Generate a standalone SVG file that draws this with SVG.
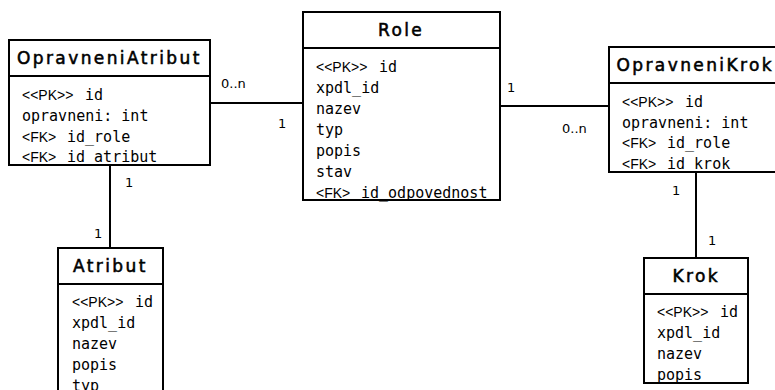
<svg xmlns="http://www.w3.org/2000/svg" width="775" height="390" viewBox="0 0 775 390">
  <style>
    .box { fill: #fff; stroke: #000; stroke-width: 2; }
    .sep { stroke: #000; stroke-width: 2; }
    .title { font-family: "DejaVu Sans", sans-serif; font-size: 17px; letter-spacing: 2.4px; fill: #000; stroke: #000; stroke-width: 0.55px; }
    .m { font-family: "DejaVu Sans Mono", monospace; font-size: 15px; fill: #000; }
    .k { font-family: "Liberation Sans", sans-serif; font-size: 14px; fill: #000; }
    .conn line { stroke: #000; stroke-width: 2; }
    .lbl { font-family: "DejaVu Sans", sans-serif; font-size: 13px; fill: #000; }
  </style>

  <!-- connectors -->
  <g id="connectors" class="conn">
    <line x1="210" y1="103" x2="303" y2="103"/>
    <line x1="500" y1="106" x2="609" y2="106"/>
    <line x1="110" y1="165" x2="110" y2="248"/>
    <line x1="696" y1="172" x2="696" y2="258"/>
    <text class="lbl" x="221" y="88">0..n</text>
    <text class="lbl" x="278" y="128">1</text>
    <text class="lbl" x="507" y="92">1</text>
    <text class="lbl" x="562" y="133">0..n</text>
    <text class="lbl" x="125" y="187">1</text>
    <text class="lbl" x="94" y="238">1</text>
    <text class="lbl" x="672" y="195">1</text>
    <text class="lbl" x="708" y="245">1</text>
  </g>

  <!-- OpravneniAtribut -->
  <g id="OpravneniAtribut">
    <rect class="box" x="9" y="40" width="201" height="125"/>
    <line class="sep" x1="9" y1="76" x2="210" y2="76"/>
    <text class="title" x="17" y="64">OpravneniAtribut</text>
    <text class="k" x="22" y="100">&lt;&lt;PK&gt;&gt;</text><text class="m" x="85" y="100">id</text>
    <text class="m" x="22" y="121">opravneni: int</text>
    <text class="k" x="22" y="141.5">&lt;FK&gt;</text><text class="m" x="67" y="141.5">id_role</text>
    <text class="k" x="22" y="162">&lt;FK&gt;</text><text class="m" x="67" y="162">id_atribut</text>
  </g>

  <!-- Role -->
  <g id="Role">
    <rect class="box" x="303" y="12" width="197" height="188"/>
    <line class="sep" x1="303" y1="48" x2="500" y2="48"/>
    <text class="title" x="378" y="36">Role</text>
    <text class="k" x="316" y="72">&lt;&lt;PK&gt;&gt;</text><text class="m" x="379" y="72">id</text>
    <text class="m" x="316" y="93">xpdl_id</text>
    <text class="m" x="316" y="114">nazev</text>
    <text class="m" x="316" y="135">typ</text>
    <text class="m" x="316" y="156">popis</text>
    <text class="m" x="316" y="177">stav</text>
    <text class="k" x="316" y="197.5">&lt;FK&gt;</text><text class="m" x="361" y="197.5">id_odpovednost</text>
  </g>

  <!-- OpravneniKrok -->
  <g id="OpravneniKrok">
    <rect class="box" x="609" y="47" width="180" height="125"/>
    <line class="sep" x1="609" y1="83" x2="789" y2="83"/>
    <text class="title" x="616.5" y="71">OpravneniKrok</text>
    <text class="k" x="622" y="107">&lt;&lt;PK&gt;&gt;</text><text class="m" x="685" y="107">id</text>
    <text class="m" x="622" y="127.5">opravneni: int</text>
    <text class="k" x="622" y="148">&lt;FK&gt;</text><text class="m" x="667" y="148">id_role</text>
    <text class="k" x="622" y="168.5">&lt;FK&gt;</text><text class="m" x="667" y="168.5">id_krok</text>
  </g>

  <!-- Atribut -->
  <g id="Atribut">
    <rect class="box" x="58" y="248" width="105" height="150"/>
    <line class="sep" x1="58" y1="284" x2="163" y2="284"/>
    <text class="title" x="73" y="272">Atribut</text>
    <text class="k" x="72" y="307">&lt;&lt;PK&gt;&gt;</text><text class="m" x="135" y="307">id</text>
    <text class="m" x="72" y="328">xpdl_id</text>
    <text class="m" x="72" y="349">nazev</text>
    <text class="m" x="72" y="370">popis</text>
    <text class="m" x="72" y="391">typ</text>
  </g>

  <!-- Krok -->
  <g id="Krok">
    <rect class="box" x="644" y="258" width="104" height="125"/>
    <line class="sep" x1="644" y1="294" x2="748" y2="294"/>
    <text class="title" x="672.5" y="282">Krok</text>
    <text class="k" x="657" y="317">&lt;&lt;PK&gt;&gt;</text><text class="m" x="720" y="317">id</text>
    <text class="m" x="657" y="338">xpdl_id</text>
    <text class="m" x="657" y="359">nazev</text>
    <text class="m" x="657" y="380">popis</text>
  </g>
</svg>
